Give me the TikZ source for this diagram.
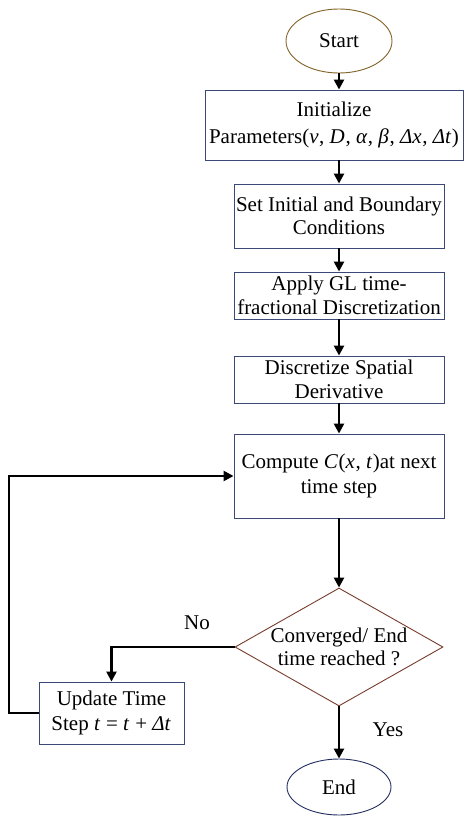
\documentclass[tikz,border=0pt]{standalone}
\usepackage{fontspec}
\setmainfont{Liberation Serif}
\usetikzlibrary{shapes.geometric,arrows.meta}
\definecolor{boxline}{RGB}{60,72,120}
\definecolor{startline}{RGB}{130,100,40}
\definecolor{decline}{RGB}{120,60,45}
\definecolor{endline}{RGB}{35,45,95}
\newcommand{\mi}[1]{\textit{#1}\kern0.6pt\relax}
\begin{document}
\begin{tikzpicture}[x=1pt,y=1pt,
  every node/.style={font=\fontsize{21}{23.5}\selectfont, align=center, inner sep=0pt},
  procbox/.style={draw=boxline, line width=0.9pt, rectangle, fill=white},
  term/.style={ellipse, line width=0.9pt, fill=white},
  flow/.style={line width=2.4pt, -{Triangle[width=10pt,length=10pt]}},
  lbl/.style={font=\fontsize{21}{23.5}\selectfont}]
\useasboundingbox (0,0) rectangle (465,-816);

\node[term, draw=startline, minimum width=106, minimum height=64] (start) at (339,-41) {Start};
\node[procbox, minimum width=258, minimum height=70, font=\fontsize{21}{27}\selectfont] (init) at (334,-125)
  {Initialize\\Parameters(\mi{v}, \mi{D}, \mi{α}, \mi{β}, \mi{Δx}, \mi{Δt})};
\node[procbox, minimum width=210, minimum height=64] (setc) at (339,-216)
  {Set Initial and Boundary\\Conditions};
\node[procbox, minimum width=210, minimum height=47] (gl) at (339,-295.5)
  {Apply GL time-\\fractional Discretization};
\node[procbox, minimum width=210, minimum height=47] (disc) at (339,-379.5)
  {Discretize Spatial\\Derivative};
\node[procbox, minimum width=210, minimum height=84, font=\fontsize{21}{25}\selectfont] (comp) at (339,-476)
  {Compute \mi{C}(\mi{x}, \mi{t})at next\\time step};
\node[diamond, draw=decline, line width=0.9pt, minimum width=208, minimum height=118, aspect=1.76] (conv) at (339,-647)
  {Converged/ End\\time reached ?};
\node[procbox, minimum width=145, minimum height=62, font=\fontsize{21}{25}\selectfont] (upd) at (111.5,-713)
  {Update Time\\Step \mi{t} = \mi{t} + \mi{Δt}};
\node[term, draw=endline, minimum width=104, minimum height=56] (stop) at (339,-787) {End};

\coordinate (loop) at (9,-476);

\draw[flow] (start) -- (start |- init.north);
\draw[flow] (setc.north |- init.south) -- (setc.north);
\draw[flow] (setc) -- (gl);
\draw[flow] (gl) -- (disc);
\draw[flow] (disc) -- (comp);
\draw[flow] (comp) -- (conv);
\draw[flow] (conv.west) -| (upd.north);
\draw[flow] (conv) -- (stop);
\draw[flow] (upd.west) -| (loop) -- (comp.west);

\node[lbl] (no) at (197,-623) {No};
\node[lbl] (yes) at (388,-730) {Yes};
\end{tikzpicture}
\end{document}
